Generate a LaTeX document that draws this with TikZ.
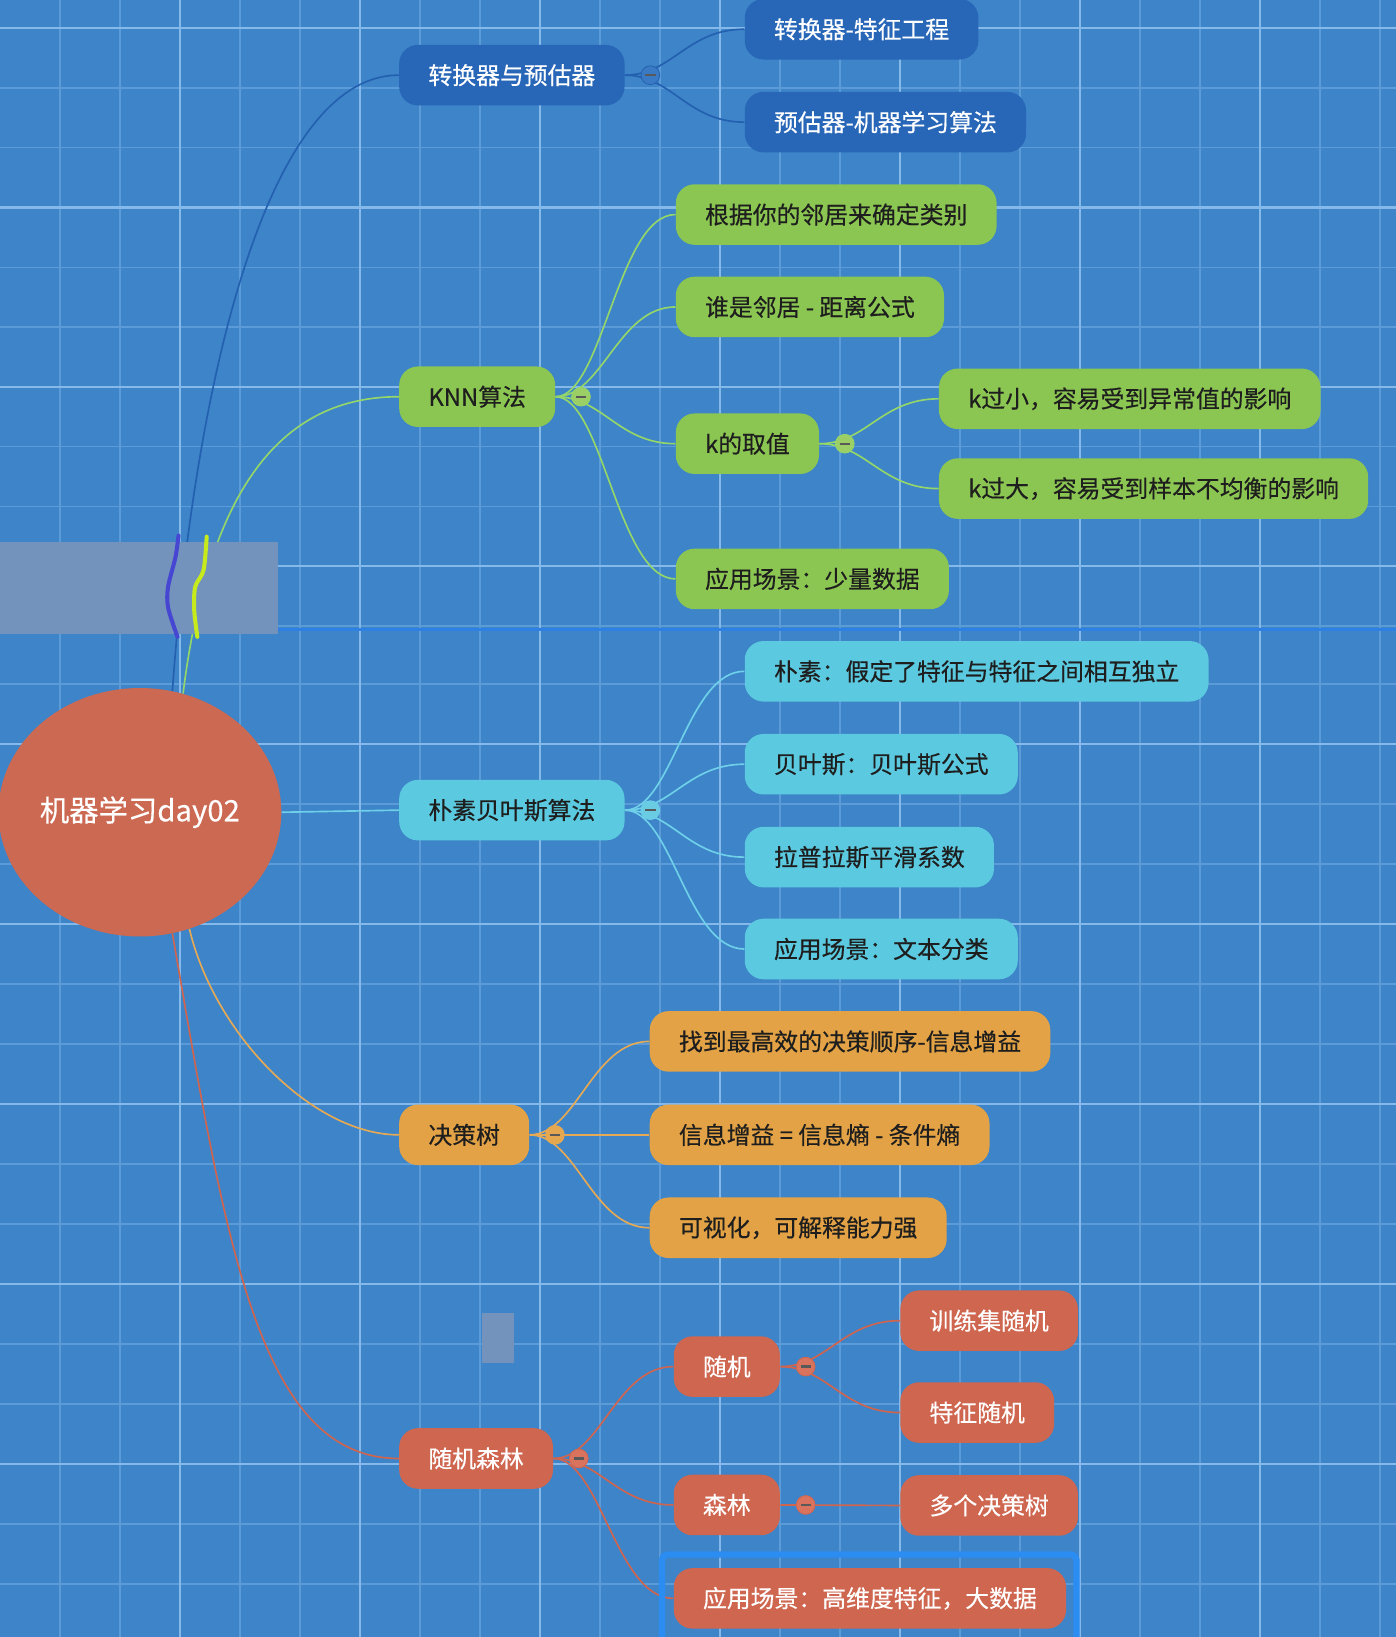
\documentclass[tikz,border=0pt]{standalone}
\usepackage{fontspec}
\setmainfont{Noto Sans CJK SC}[FakeBold=0.4]
\usetikzlibrary{shapes.geometric, positioning}

\definecolor{bgblue}{HTML}{3D84C8}
\definecolor{gridminor}{HTML}{5B9BD8}
\definecolor{gridmajor}{HTML}{84B9EA}
\definecolor{nodeblue}{HTML}{2866B8}
\definecolor{linkblue}{HTML}{2460B0}
\definecolor{dotblue}{HTML}{3A79C4}
\definecolor{nodegreen}{HTML}{8BC653}
\definecolor{linkgreen}{HTML}{95D66A}
\definecolor{dotgreen}{HTML}{9BCF66}
\definecolor{nodecyan}{HTML}{5BC9DF}
\definecolor{linkcyan}{HTML}{6FD0EA}
\definecolor{dotcyan}{HTML}{6ACCE2}
\definecolor{nodeorange}{HTML}{E2A245}
\definecolor{linkorange}{HTML}{E6AA55}
\definecolor{dotorange}{HTML}{E5A850}
\definecolor{nodered}{HTML}{CF664F}
\definecolor{linkred}{HTML}{D0654F}
\definecolor{dotred}{HTML}{D9735D}
\definecolor{rootred}{HTML}{CC6952}
\definecolor{textdark}{HTML}{1E1E1E}
\definecolor{covergray}{HTML}{7393BD}
\definecolor{markblue}{HTML}{4646D2}
\definecolor{markyellow}{HTML}{C6EA1C}
\definecolor{seamblue}{HTML}{2E80E2}
\definecolor{frameblue}{HTML}{2B8CF2}

\begin{document}
\begin{tikzpicture}[x=0.02cm, y=-0.02cm]
    % --- Style Definitions ---
    \tikzset{
        grid minor/.style={draw=gridminor, line width=0.8pt},
        grid major/.style={draw=gridmajor, line width=1.2pt},
        mind box/.style={
            rounded corners=0.36cm,
            minimum height=1.16cm,
            inner xsep=0.56cm,
            inner ysep=0pt,
            font=\fontsize{13}{15}\selectfont,
            text=textdark,
            anchor=west
        },
        blue box/.style={mind box, fill=nodeblue, text=white},
        green box/.style={mind box, fill=nodegreen},
        cyan box/.style={mind box, fill=nodecyan},
        orange box/.style={mind box, fill=nodeorange},
        red box/.style={mind box, fill=nodered, text=white},
        root node/.style={
            ellipse,
            fill=rootred,
            minimum width=5.28cm,
            minimum height=4.76cm,
            inner sep=0pt,
            text=white,
            font=\fontsize{16}{19}\selectfont
        },
        link/.style={line width=0.9pt},
        blue link/.style={link, draw=linkblue},
        green link/.style={link, draw=linkgreen},
        cyan link/.style={link, draw=linkcyan},
        orange link/.style={link, draw=linkorange},
        red link/.style={link, draw=linkred},
        fold dot/.style={
            circle,
            minimum size=0.36cm,
            inner sep=0pt,
            line width=0.4pt,
            path picture={
                \draw[line width=1.3pt, black!65]
                    ([xshift=2.3pt]path picture bounding box.west) --
                    ([xshift=-2.3pt]path picture bounding box.east);
            }
        },
        blue dot/.style={fold dot, fill=dotblue, draw=linkblue},
        green dot/.style={fold dot, fill=dotgreen, draw=linkgreen},
        cyan dot/.style={fold dot, fill=dotcyan, draw=linkcyan},
        orange dot/.style={fold dot, fill=dotorange, draw=linkorange},
        red dot/.style={fold dot, fill=dotred, draw=linkred},
        mark line/.style={line width=2.2pt, line cap=round, line join=round}
    }

    % --- 1. Background and Grid ---
    \useasboundingbox (0,0) rectangle (1337,1568);
    \fill[bgblue] (0,0) rectangle (1337,1568);
    \foreach \i in {1,...,23}
        \draw[grid minor] ({57.47*\i},0) -- ({57.47*\i},1568);
    \foreach \j in {0,...,10}
        \draw[grid minor] (0,{26.8+57.3*\j}) -- (1337,{26.8+57.3*\j});
    \foreach \j in {0,...,15}
        \draw[grid minor] (0,{655.2+57.47*\j}) -- (1337,{655.2+57.47*\j});
    \foreach \i in {3,6,...,21}
        \draw[grid major] ({57.47*\i},0) -- ({57.47*\i},1568);
    \foreach \j in {0,3,6,9}
        \draw[grid major] (0,{26.8+57.3*\j}) -- (1337,{26.8+57.3*\j});
    \foreach \j in {1,4,...,13}
        \draw[grid major] (0,{655.2+57.47*\j}) -- (1337,{655.2+57.47*\j});
    \draw[seamblue, line width=1.7pt] (266,603) -- (1337,603);

    % --- 2. Nodes ---
    \node[root node] (root) at (134,778) {机器学习day02};

    \node[blue box] (tr) at (382,72) {转换器与预估器};
    \node[blue box] (t1) at (713,28) {转换器-特征工程};
    \node[blue box] (t2) at (713,117) {预估器-机器学习算法};

    \node[green box] (knn) at (382,380) {KNN算法};
    \node[green box] (k1) at (647,205.5) {根据你的邻居来确定类别};
    \node[green box] (k2) at (647,294) {谁是邻居 - 距离公式};
    \node[green box] (k3) at (647,425) {k的取值};
    \node[green box] (k4) at (647,554.5) {应用场景：少量数据};
    \node[green box] (k31) at (899,382) {k过小，容易受到异常值的影响};
    \node[green box] (k32) at (899,468) {k过大，容易受到样本不均衡的影响};

    \node[cyan box] (nb) at (382,776) {朴素贝叶斯算法};
    \node[cyan box] (n1) at (713,643) {朴素：假定了特征与特征之间相互独立};
    \node[cyan box] (n2) at (713,732) {贝叶斯：贝叶斯公式};
    \node[cyan box] (n3) at (713,821) {拉普拉斯平滑系数};
    \node[cyan box] (n4) at (713,909) {应用场景：文本分类};

    \node[orange box] (dt) at (382,1087) {决策树};
    \node[orange box] (d1) at (622,997.5) {找到最高效的决策顺序-信息增益};
    \node[orange box] (d2) at (622,1087) {信息增益 = 信息熵 - 条件熵};
    \node[orange box] (d3) at (622,1176) {可视化，可解释能力强};

    \node[red box] (rf) at (382,1397) {随机森林};
    \node[red box] (r1) at (645,1309) {随机};
    \node[red box] (r2) at (645,1441.5) {森林};
    \node[red box] (r3) at (645,1531) {应用场景：高维度特征，大数据};
    \node[red box] (r11) at (862,1265) {训练集随机};
    \node[red box] (r12) at (862,1353) {特征随机};
    \node[red box] (r21) at (862,1442) {多个决策树};

    % --- 3. Links ---
    \draw[blue link] (root.75) .. controls +(20,-280) and +(-130,0) .. (tr.west);
    \draw[green link] (root.70) .. controls +(25,-200) and +(-110,0) .. (knn.west);
    \draw[cyan link] (root.east) -- (nb.west);
    \draw[orange link] (root.-67) .. controls +(24,101) and +(-82,0) .. (dt.west);
    \draw[red link] (root.-75) .. controls +(50,286) and +(-137,0) .. (rf.west);

    \foreach \c in {t1,t2}
        \draw[blue link] (tr.east) .. controls +(45,0) and +(-55,0) .. (\c.west);
    \foreach \c in {k1,k2,k3,k4}
        \draw[green link] (knn.east) .. controls +(45,0) and +(-55,0) .. (\c.west);
    \foreach \c in {k31,k32}
        \draw[green link] (k3.east) .. controls +(45,0) and +(-55,0) .. (\c.west);
    \foreach \c in {n1,n2,n3,n4}
        \draw[cyan link] (nb.east) .. controls +(45,0) and +(-55,0) .. (\c.west);
    \foreach \c in {d1,d2,d3}
        \draw[orange link] (dt.east) .. controls +(45,0) and +(-55,0) .. (\c.west);
    \foreach \c in {r1,r2,r3}
        \draw[red link] (rf.east) .. controls +(45,0) and +(-55,0) .. (\c.west);
    \foreach \c in {r11,r12}
        \draw[red link] (r1.east) .. controls +(45,0) and +(-55,0) .. (\c.west);
    \draw[red link] (r2.east) -- (r21.west);

    % --- 4. Fold Dots ---
    \node[blue dot, right=0.3cm of tr] (trfold) {};
    \node[green dot, right=0.3cm of knn] (knnfold) {};
    \node[green dot, right=0.3cm of k3] (k3fold) {};
    \node[cyan dot, right=0.3cm of nb] (nbfold) {};
    \node[orange dot, right=0.3cm of dt] (dtfold) {};
    \node[red dot, right=0.3cm of rf] (rffold) {};
    \node[red dot, right=0.3cm of r1] (r1fold) {};
    \node[red dot, right=0.3cm of r2] (r2fold) {};

    % --- 5. Screen Marks ---
    \fill[covergray] (0,519) rectangle (266,607);
    \fill[covergray] (462,1258) rectangle (492,1306);
    \draw[mark line, markblue] plot[smooth] coordinates {(171,513) (168,534) (161,562) (161,582) (170,610)};
    \draw[mark line, markyellow] plot[smooth] coordinates {(198,514) (195,546) (187,562) (186,584) (189,610)};
    \draw[frameblue, line width=0.12cm, rounded corners=0.1cm] (634,1489) rectangle (1031,1580);

\end{tikzpicture}
\end{document}
